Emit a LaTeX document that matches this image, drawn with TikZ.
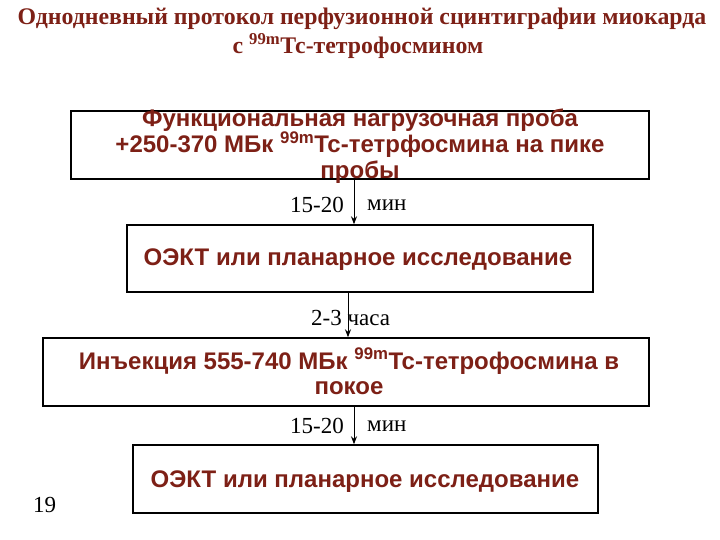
\documentclass[tikz,border=0pt]{standalone}
\usepackage{fontspec}
\setmainfont{Liberation Serif}
\newfontfamily\boxfont{Liberation Sans}
\usetikzlibrary{arrows.meta}
\definecolor{maroon}{RGB}{125,32,22}
\tikzset{
  frame/.style={draw=black, line width=1.4pt, inner sep=0pt, fill=none},
  boxtext/.style={font=\boxfont\bfseries\fontsize{24}{25.5}\selectfont, text=maroon, align=center, inner sep=0pt},
  lbl/.style={font=\fontsize{23}{27}\selectfont, inner sep=0pt},
  arr/.style={draw=black, line width=1pt, -{Stealth[length=8pt,width=6pt]}},
  ttl/.style={font=\bfseries\fontsize{23.8}{27}\selectfont, text=maroon, inner sep=0pt, align=center}
}
\begin{document}
\begin{tikzpicture}[x=1pt,y=-1pt]
\useasboundingbox (0,0) rectangle (720,540);
% title
\node[ttl] (title1) at (362,19) {Однодневный протокол перфузионной сцинтиграфии миокарда};
\node[ttl] (title2) at (358,46) {с \textsuperscript{99m}Тс-тетрофосмином};
% boxes
\node[frame, minimum width=578pt, minimum height=68pt] (b1) at (360,145) {};
\node[boxtext] (t1) at (360,146) {Функциональная нагрузочная проба\\+250-370 МБк \textsuperscript{99m}Тс-тетрфосмина на пике\\пробы};
\node[frame, minimum width=466pt, minimum height=67pt] (b2) at (360,258.5) {};
\node[boxtext] (t2) at (358,260) {ОЭКТ или планарное исследование};
\node[frame, minimum width=606pt, minimum height=68pt] (b3) at (346,372) {};
\node[boxtext] (t3) at (349,371.5) {Инъекция 555-740 МБк \textsuperscript{99m}Тс-тетрофосмина в\\покое};
\node[frame, minimum width=465pt, minimum height=68pt] (b4) at (365.5,479) {};
\node[boxtext] (t4) at (365,482) {ОЭКТ или планарное исследование};
% arrow x positions
\coordinate (x1) at (354,0);
\coordinate (x2) at (348,0);
\coordinate (x3) at (354,0);
\draw[arr] (b1.south -| x1) -- (b2.north -| x1);
\draw[arr] (b2.south -| x2) -- (b3.north -| x2);
\draw[arr] (b3.south -| x3) -- (b4.north -| x3);
% labels
\node[lbl, anchor=east] (l1a) at (344,205) {15-20};
\node[lbl, anchor=west] (l1b) at (367,205) {мин};
\node[lbl, anchor=west] (l2) at (311,318) {2-3 часа};
\node[lbl, anchor=east] (l3a) at (344,426) {15-20};
\node[lbl, anchor=west] (l3b) at (367,426) {мин};
\node[lbl] (page) at (44.5,505) {19};
\end{tikzpicture}
\end{document}
